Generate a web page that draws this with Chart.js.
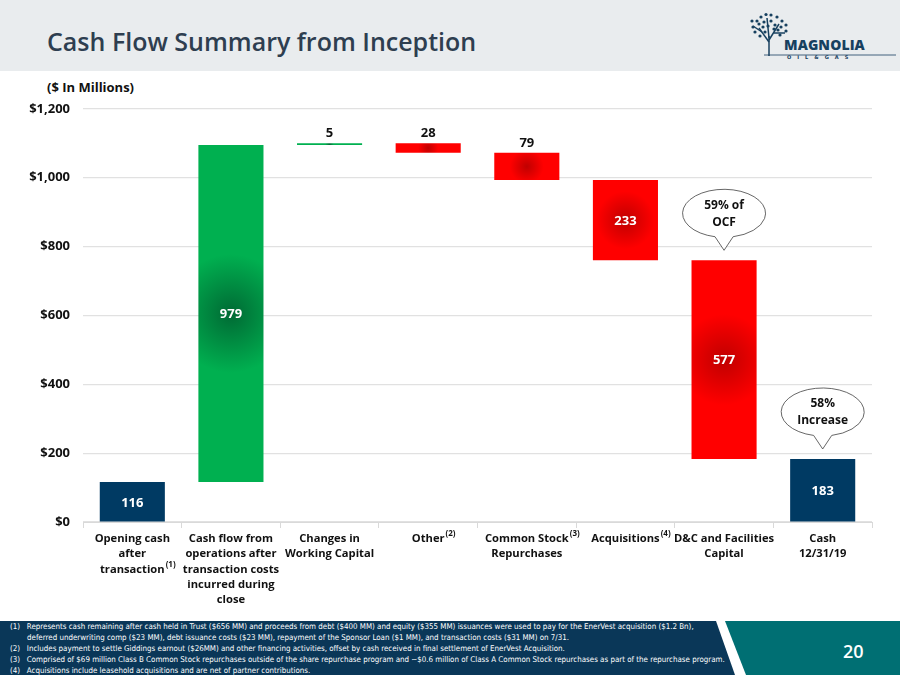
<!DOCTYPE html>
<html>
<head>
<meta charset="utf-8">
<script src="https://cdn.jsdelivr.net/npm/chart.js@4.4.1/dist/chart.umd.min.js"></script>
<style>
  html, body { margin: 0; padding: 0; background: #fff; }
  body { width: 900px; height: 675px; position: relative; overflow: hidden; font-family: "Open Sans", sans-serif; }
  .header { position: absolute; left: 0; top: 0; width: 900px; height: 71px; background: #e9ecee; }
  .title { position: absolute; left: 47px; top: 24px; font-size: 25px; font-weight: 600; color: #2e3e50; letter-spacing: 0px; }
  .logo { position: absolute; left: 750px; top: 12px; }
  .units { position: absolute; left: 47px; top: 78px; font-size: 13px; font-weight: 700; color: #111; }
  .chart-box { position: absolute; left: 0; top: 88px; width: 900px; height: 527px; }
  .footer { position: absolute; left: 0; top: 621px; width: 900px; height: 54px; }
  .notes { position: absolute; left: 0; top: 622px; width: 720px; font-family: "Liberation Sans Narrow", "DejaVu Sans Condensed", sans-serif; font-size: 7.9px; color: #fff; }
  .note { position: absolute; white-space: nowrap; }
  .page { position: absolute; left: 843px; top: 639px; font-size: 18px; font-weight: 600; color: #fff; }
</style>
</head>
<body>
<div class="header"></div>
<div class="title">Cash Flow Summary from Inception</div>
<svg class="logo" width="150" height="48" viewBox="0 0 150 48">
  <g stroke="#17405f" fill="none" stroke-width="1.5">
    <line x1="19" y1="44" x2="19" y2="24"/>
    <line x1="19" y1="30" x2="9" y2="16"/>
    <line x1="19" y1="28" x2="29" y2="12"/>
    <line x1="19" y1="26" x2="17" y2="6"/>
    <line x1="24" y1="21" x2="35" y2="21"/>
    <line x1="12" y1="20" x2="3" y2="14"/>
  </g>
  <g fill="#17405f">
    <circle cx="7" cy="9" r="1.6"/><circle cx="11" cy="5" r="1.6"/><circle cx="16" cy="2.5" r="1.6"/>
    <circle cx="21" cy="3" r="1.6"/><circle cx="27" cy="5" r="1.6"/><circle cx="32" cy="9" r="1.6"/>
    <circle cx="3" cy="15" r="1.6"/><circle cx="9" cy="12" r="1.6"/><circle cx="14" cy="10" r="1.6"/>
    <circle cx="21" cy="9" r="1.6"/><circle cx="25" cy="13" r="1.6"/><circle cx="31" cy="15" r="1.6"/>
    <circle cx="5" cy="20" r="1.6"/><circle cx="13" cy="15" r="1.6"/><circle cx="24" cy="17" r="1.6"/>
    <circle cx="36" cy="19" r="1.6"/><circle cx="30" cy="23" r="1.6"/><circle cx="10" cy="24" r="1.6"/>
    <circle cx="18" cy="14" r="1.6"/><circle cx="15" cy="20" r="1.6"/><circle cx="36" cy="13" r="1.6"/>
    <circle cx="28" cy="18" r="1.6"/><circle cx="2" cy="9" r="1.6"/>
  </g>
  <text x="34" y="38" font-family="Open Sans, sans-serif" font-weight="800" font-size="14" fill="#17405f" letter-spacing="0.1">MAGNOLIA</text>
  <text x="37" y="46.5" font-family="DejaVu Sans, sans-serif" font-weight="700" font-size="5" fill="#17405f" letter-spacing="6">OIL&amp;GAS</text>
  <line x1="14" y1="43" x2="146" y2="43" stroke="#17405f" stroke-width="0.8"/>
</svg>
<div class="units">($ In Millions)</div>
<div class="chart-box"><canvas id="cashChart"></canvas></div>

<svg class="footer" width="900" height="54" viewBox="0 0 900 54">
  <polygon points="0,0 716,0 735,54 0,54" fill="#0a3758"/>
  <polygon points="725,0 900,0 900,54 746,54" fill="#006f73"/>
</svg>
<div class="notes">
  <div class="note" style="left:10px;top:0px">(1)&nbsp;&nbsp;&nbsp;Represents cash remaining after cash held in Trust ($656 MM) and proceeds from debt ($400 MM) and equity ($355 MM) issuances were used to pay for the EnerVest acquisition ($1.2 Bn),</div>
  <div class="note" style="left:27px;top:11px">deferred underwriting comp ($23 MM), debt issuance costs ($23 MM), repayment of the Sponsor Loan ($1 MM), and transaction costs ($31 MM) on 7/31.</div>
  <div class="note" style="left:10px;top:22px">(2)&nbsp;&nbsp;&nbsp;Includes payment to settle Giddings earnout ($26MM) and other financing activities, offset by cash received in final settlement of EnerVest Acquisition.</div>
  <div class="note" style="left:10px;top:33px">(3)&nbsp;&nbsp;&nbsp;Comprised of $69 million Class B Common Stock repurchases outside of the share repurchase program and ~$0.6 million of Class A Common Stock repurchases as part of the repurchase program.</div>
  <div class="note" style="left:10px;top:44px">(4)&nbsp;&nbsp;&nbsp;Acquisitions include leasehold acquisitions and are net of partner contributions.</div>
</div>
<div class="page">20</div>

<script>
// Waterfall data ($ in millions)
const categories = [
    ['Opening cash', 'after', 'transaction'],
    ['Cash flow from', 'operations after', 'transaction costs', 'incurred during', 'close'],
    ['Changes in', 'Working Capital'],
    ['Other'],
    ['Common Stock', 'Repurchases'],
    ['Acquisitions'],
    ['D&C and Facilities', 'Capital'],
    ['Cash', '12/31/19']
];
const changes = [116, 979, 5, -28, -79, -233, -577, 183];
const barKinds = ['total', 'up', 'up', 'down', 'down', 'down', 'down', 'total'];
// footnote markers on tick labels: [category index, line index, text]
const footnoteMarks = [[0, 2, '(1)'], [3, 0, '(2)'], [4, 0, '(3)'], [5, 0, '(4)']];
const yTicks = [0, 200, 400, 600, 800, 1000, 1200];
const callouts = [
    { index: 6, lines: ['59% of', 'OCF'] },
    { index: 7, lines: ['58%', 'Increase'] }
];

// build floating [start, end] pairs for the waterfall
const floating = (() => {
    let running = 0;
    return changes.map((v, i) => {
        if (barKinds[i] === 'total') {
            running = v;
            return [0, v];
        }
        const start = running;
        running += v;
        return [start, running];
    });
})();

const colors = {
    total: '#003a63',
    up: { light: '#00b050', dark: '#006a34' },
    down: { light: '#ff0000', dark: '#c00000' }
};

// radial "from center" fill like the original slide
const barFill = (context) => {
    const i = context.dataIndex;
    const kind = barKinds[i];
    if (kind === 'total') return colors.total;
    const chart = context.chart;
    const pal = colors[kind];
    if (!chart.chartArea) return pal.light;
    const xs = chart.scales.x, ys = chart.scales.y;
    const [a, b] = floating[i];
    const cx = xs.getPixelForValue(i);
    const y1 = ys.getPixelForValue(a), y2 = ys.getPixelForValue(b);
    const cy = (y1 + y2) / 2;
    const h = Math.max(Math.abs(y1 - y2), 1.5);
    const w = xs.width / categories.length * 0.66;
    const r = Math.max(3, 0.4 * Math.sqrt(w * h));
    const g = chart.ctx.createRadialGradient(cx, cy, 0, cx, cy, r);
    g.addColorStop(0, pal.dark);
    g.addColorStop(1, pal.light);
    return g;
};

const labelFont = 'bold 13px "Open Sans", sans-serif';
const tickFamily = '"Open Sans", sans-serif';
const tickSize = 11.2;
const tickWeight = 'bold';
const tickLineH = 1.37;

// value labels, footnote superscripts and speech bubbles
const annotatePlugin = {
    id: 'annotate',
    afterDatasetsDraw(chart) {
        const { ctx } = chart;
        const xs = chart.scales.x, ys = chart.scales.y;
        const meta = chart.getDatasetMeta(0);
        ctx.save();
        ctx.font = labelFont;
        ctx.textAlign = 'center';
        meta.data.forEach((bar, i) => {
            const v = Math.abs(changes[i]);
            const [a, b] = floating[i];
            const top = ys.getPixelForValue(Math.max(a, b));
            const bottom = ys.getPixelForValue(Math.min(a, b));
            if (barKinds[i] === 'total' || v > 100) {
                ctx.fillStyle = '#ffffff';
                ctx.textBaseline = 'middle';
                ctx.fillText(String(v), bar.x, (top + bottom) / 2 + 1);
            } else {
                ctx.fillStyle = '#111111';
                ctx.textBaseline = 'alphabetic';
                ctx.fillText(String(v), bar.x, top - 6);
            }
        });

        // speech bubbles
        callouts.forEach(c => {
            const cx = xs.getPixelForValue(c.index);
            const barTop = ys.getPixelForValue(Math.max(...floating[c.index]));
            const tipY = barTop - 10;
            const rx = 41.5, ry = 24;
            const cy = tipY - 13 - ry;
            const d = 0.22;
            ctx.beginPath();
            ctx.ellipse(cx, cy, rx, ry, 0, Math.PI / 2 + d, Math.PI / 2 - d + Math.PI * 2);
            ctx.lineTo(cx, tipY);
            ctx.closePath();
            ctx.fillStyle = '#ffffff';
            ctx.fill();
            ctx.lineWidth = 0.8;
            ctx.strokeStyle = '#404040';
            ctx.stroke();
            ctx.fillStyle = '#111111';
            ctx.font = 'bold 12px "Open Sans", sans-serif';
            ctx.textBaseline = 'middle';
            ctx.fillText(c.lines[0], cx, cy - 8);
            ctx.fillText(c.lines[1], cx, cy + 9);
        });

        // superscripts after tick label lines
        const lineH = tickSize * tickLineH;
        footnoteMarks.forEach(([i, li, txt]) => {
            ctx.font = `${tickWeight} ${tickSize}px ${tickFamily}`;
            const w = ctx.measureText(categories[i][li]).width;
            const x = xs.getPixelForValue(i) + w / 2 + 1;
            const y = xs.top + 6 + 3 + li * lineH - 1;
            ctx.font = `bold 8px ${tickFamily}`;
            ctx.textAlign = 'left';
            ctx.textBaseline = 'top';
            ctx.fillStyle = '#111111';
            ctx.fillText(txt, x, y);
        });
        ctx.restore();
    }
};

const ctx = document.getElementById('cashChart').getContext('2d');
window.cashChart = new Chart(ctx, {
    type: 'bar',
    data: {
        labels: categories,
        datasets: [{
            data: floating,
            backgroundColor: barFill,
            borderWidth: 0,
            borderSkipped: false,
            categoryPercentage: 1,
            barPercentage: 0.66
        }]
    },
    options: {
        responsive: true,
        maintainAspectRatio: false,
        animation: false,
        layout: { padding: { top: 0, right: 28, left: 0, bottom: 0 } },
        plugins: {
            legend: { display: false },
            tooltip: { enabled: false }
        },
        scales: {
            x: {
                grid: {
                    offset: true,
                    drawOnChartArea: false,
                    tickLength: 6,
                    color: '#d9d9d9'
                },
                border: { color: '#d9d9d9' },
                ticks: {
                    color: '#111111',
                    font: { family: tickFamily, size: tickSize, weight: tickWeight, lineHeight: tickLineH },
                    maxRotation: 0,
                    autoSkip: false,
                    padding: 3
                },
                afterFit(scale) { scale.height = 93; }
            },
            y: {
                min: 0,
                max: 1200,
                afterBuildTicks(scale) { scale.ticks = yTicks.map(v => ({ value: v })); },
                grid: { color: '#e1e1e1', lineWidth: 1.2, drawTicks: false },
                border: { display: false },
                ticks: {
                    color: '#111111',
                    padding: 13,
                    font: { family: tickFamily, size: 13, weight: 'bold' },
                    callback: (v) => '$' + v.toLocaleString('en-US')
                },
                afterFit(scale) { scale.width = 83; }
            }
        }
    },
    plugins: [annotatePlugin]
});
</script>
</body>
</html>
